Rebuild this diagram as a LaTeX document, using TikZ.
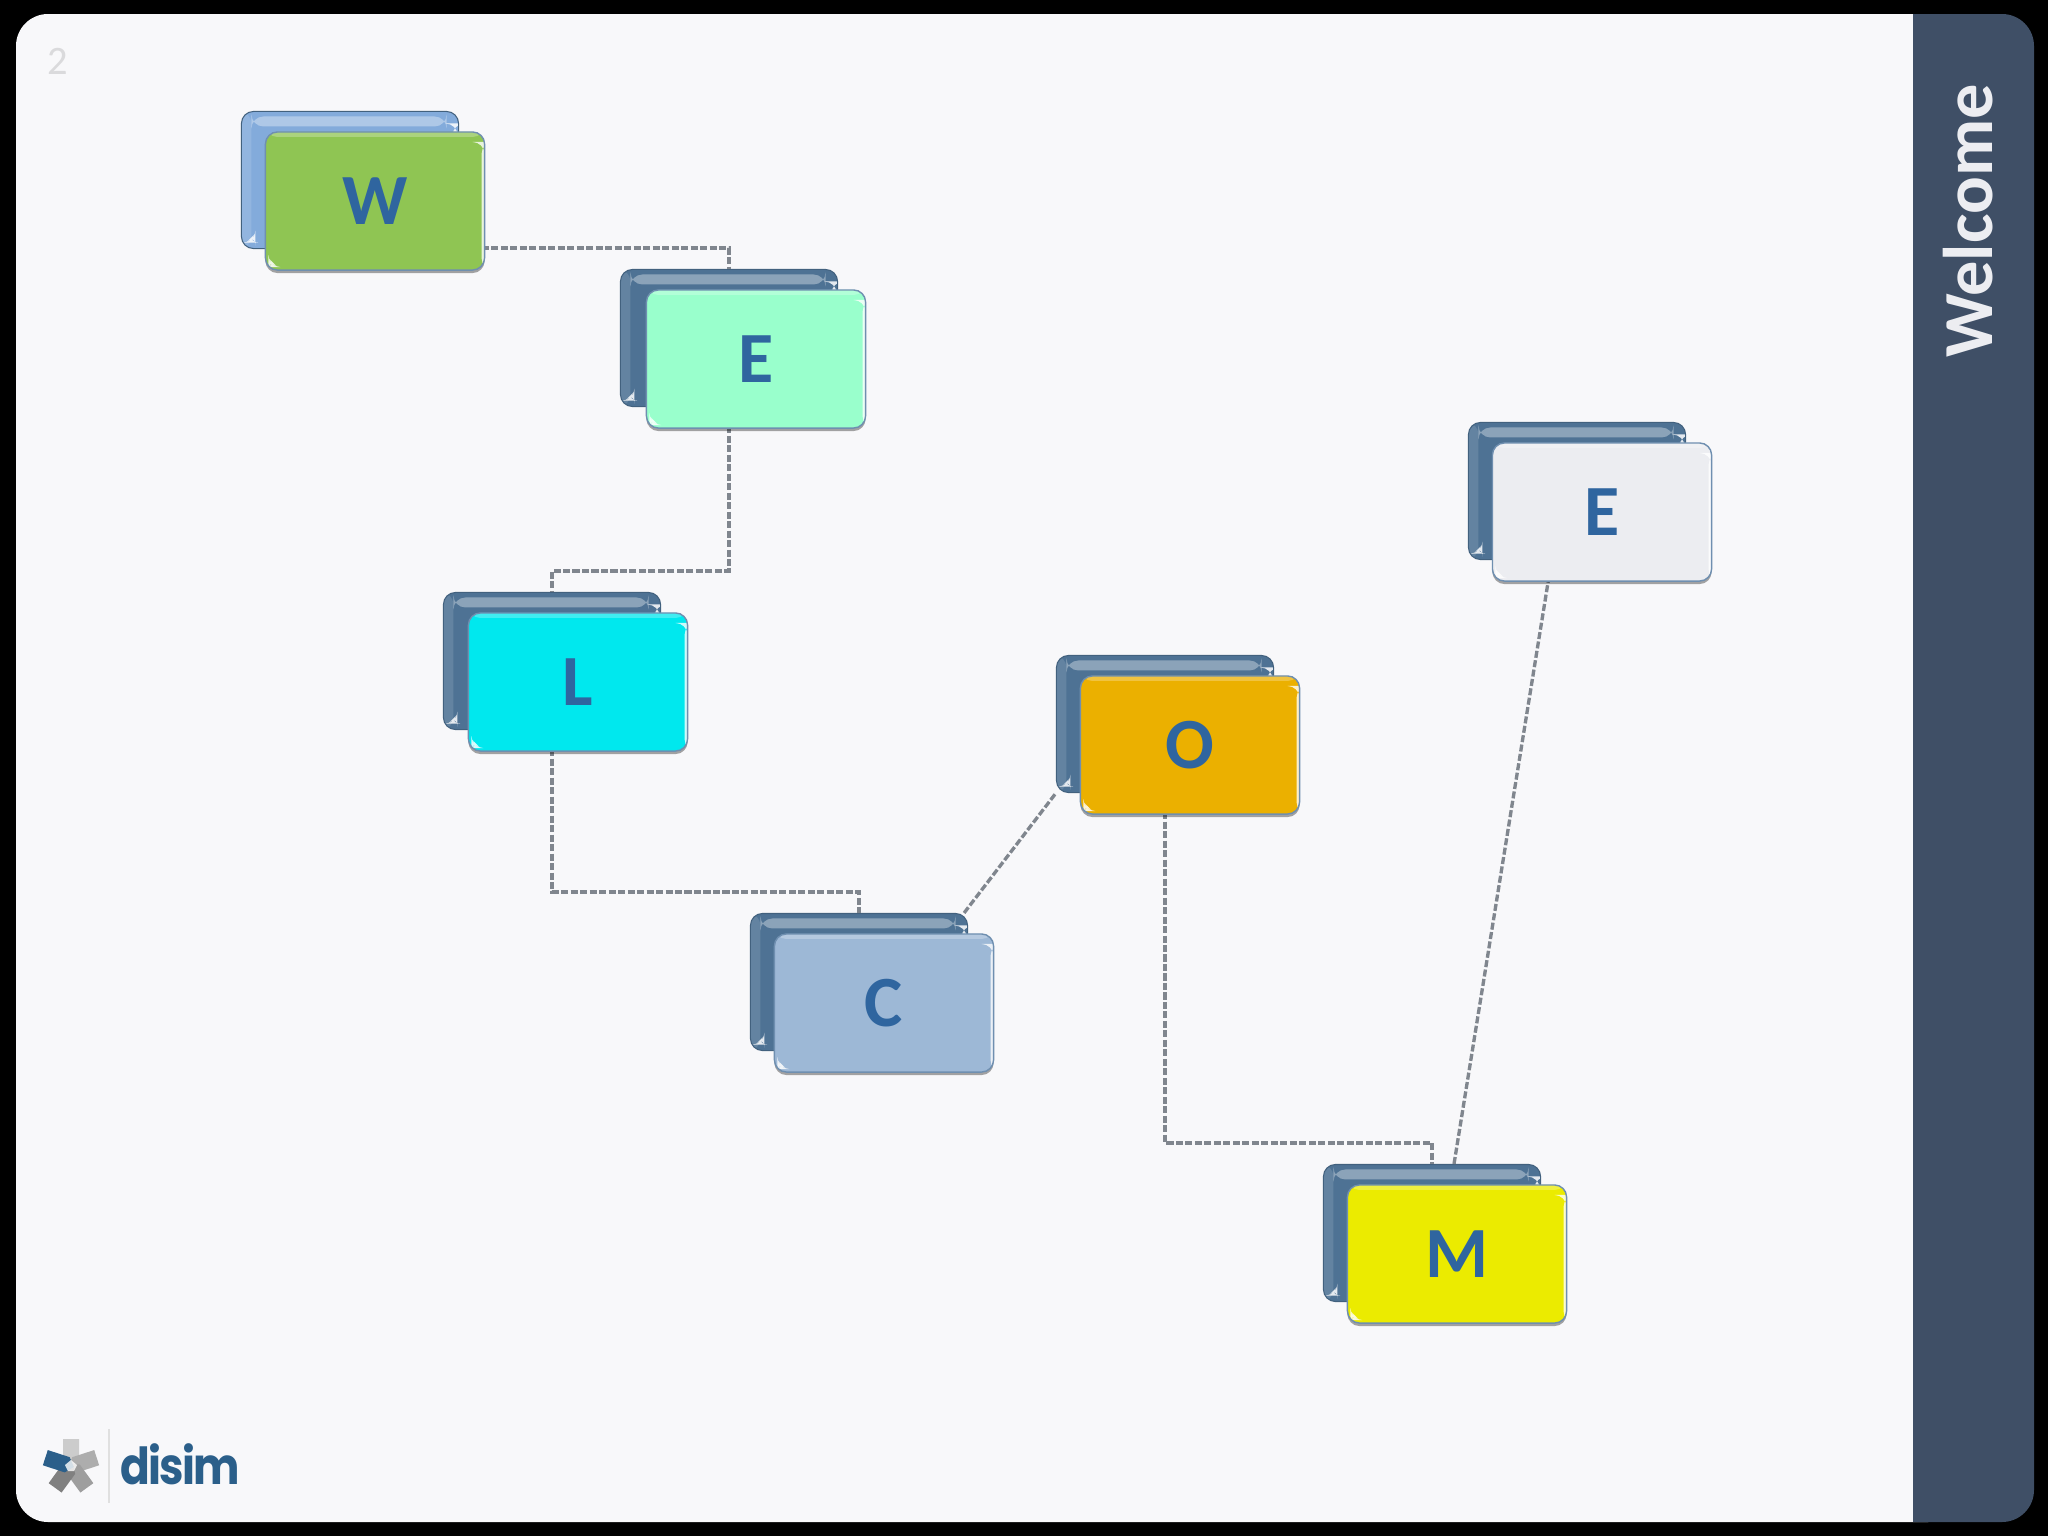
\documentclass[tikz,border=0pt]{standalone}
\usepackage{fontspec}
\setmainfont{Carlito}
\newfontfamily\logofont{Poppins}[LetterSpace=-4]
\usetikzlibrary{shadows}
\definecolor{Ink}{HTML}{000000}
\definecolor{Paper}{HTML}{F8F8FA}
\definecolor{Slate}{HTML}{3F4F66}
\definecolor{Steel}{HTML}{4E7294}
\definecolor{Sky}{HTML}{83ABDB}
\definecolor{Rim}{HTML}{6F8FB0}
\definecolor{Letter}{HTML}{2F659F}
\definecolor{Dash}{HTML}{80868E}
\definecolor{Brand}{HTML}{2B5F8A}
\definecolor{Grass}{HTML}{8FC553}
\definecolor{Mint}{HTML}{99FFCC}
\definecolor{Aqua}{HTML}{00E8EE}
\definecolor{Haze}{HTML}{9DB8D6}
\definecolor{Amber}{HTML}{EBB000}
\definecolor{Lemon}{HTML}{EBEB00}
\definecolor{Mist}{HTML}{ECEDF1}
\def\ppb{path picture bounding box}
\begin{document}
\begin{tikzpicture}[
    x=.01cm,y=-.01cm,
    backbox/.style={draw=Steel!85!black,line width=.3pt,rounded corners=.12cm,fill=Steel,
                    minimum width=2.17cm,minimum height=1.37cm,inner sep=0pt,
                    path picture={
                      \fill[white,opacity=.35] ([shift={(10,5)}]\ppb.north west) rectangle ([shift={(-12,15)}]\ppb.north east);
                      \fill[white,opacity=.12] (\ppb.north west) rectangle ([shift={(10,0)}]\ppb.south west);
                      \fill[white,opacity=.85] ([shift={(-6,12)}]\ppb.north east) rectangle ([shift={(-1,32)}]\ppb.north east);
                      \fill[white,opacity=.85] ([shift={(5,-6)}]\ppb.south west) -- ([shift={(14,-6)}]\ppb.south west) -- ([shift={(14,-15)}]\ppb.south west) -- cycle;
                    }},
    frontbox/.style={draw=Rim,line width=.4pt,rounded corners=.12cm,
                     minimum width=2.19cm,minimum height=1.38cm,inner sep=0pt,
                     font=\bfseries\fontsize{20.5}{24}\selectfont,text=Letter,
                     drop shadow={shadow xshift=0cm,shadow yshift=-.03cm,opacity=.35,fill=black},
                     path picture={
                       \fill[white,opacity=.25] (\ppb.north west) rectangle ([shift={(0,5)}]\ppb.north east);
                       \fill[white,opacity=.8] ([shift={(-3,10)}]\ppb.north east) rectangle (\ppb.south east);
                       \fill[white,opacity=.85] ([shift={(3,-3)}]\ppb.south west) -- ([shift={(12,-3)}]\ppb.south west) -- ([shift={(3,-12)}]\ppb.south west) -- cycle;
                     }},
    link/.style={Dash,line width=.95pt,dash pattern=on 2pt off .7pt}
  ]
    \useasboundingbox (0,0) rectangle (2048,1536);
    \fill[Ink] (0,0) rectangle (2048,1536);
    \fill[Paper,rounded corners=.32cm] (16,14) rectangle (1960,1522);
    \fill[Slate] (1913,14) [rounded corners=.32cm] -- (2034,14) -- (2034,1522) [sharp corners] -- (1913,1522) -- cycle;
    \node[text=Paper!88!black,font=\fontsize{11.5}{14}\selectfont] (pagenum) at (58,61) {2};
    \node[rotate=90,anchor=base,text=Mist,font=\bfseries\fontsize{20}{24}\selectfont] (sidetitle) at (1992,221) {Welcome};

    % back cards
    \node[backbox,fill=Sky] (wb) at (350,180) {};
    \node[backbox] (eb) at (729,338) {};
    \node[backbox] (lb) at (552,661) {};
    \node[backbox] (cb) at (859,982) {};
    \node[backbox] (ob) at (1165,724) {};
    \node[backbox] (mb) at (1432,1233) {};
    \node[backbox] (sb) at (1577,491) {};

    % connectors run behind the front cards
    \draw[link] (wb.south) |- ([yshift=.21cm]eb.north) -- (eb.north);
    \draw[link] (eb.south) |- ([yshift=.21cm]lb.north) -- (lb.north);
    \draw[link] (lb.south) |- ([yshift=.21cm]cb.north) -- (cb.north);
    \draw[link] ([xshift=-.04cm]cb.north east) -- (ob.south west);
    \draw[link] (ob.south) |- ([yshift=.21cm]mb.north) -- (mb.north);
    \draw[link] ([xshift=.22cm]mb.north) -- ([xshift=-.26cm,yshift=-.04cm]sb.south);

    % front cards
    \node[frontbox,fill=Grass] (wf) at ([shift={(25,21)}]wb) {W};
    \node[frontbox,fill=Mint] (ef) at ([shift={(27,21)}]eb) {E};
    \node[frontbox,fill=Aqua] (lf) at ([shift={(26,21)}]lb) {L};
    \node[frontbox,fill=Haze] (cf) at ([shift={(25,21)}]cb) {C};
    \node[frontbox,fill=Amber] (of) at ([shift={(25,21)}]ob) {O};
    \node[frontbox,fill=Lemon] (mf) at ([shift={(25,21)}]mb) {M};
    \node[frontbox,fill=Mist] (sf) at ([shift={(25,21)}]sb) {E};

    % logo
    \foreach \ang/\col in {90/black!20,18/black!32,-54/black!38,-126/black!50,162/Brand}
      \fill[\col,shift={(71,1466)},rotate=\ang,yscale=-1] (4,-8) -- (27,-8) -- (27,8) -- (4,8) -- (-3,0) -- cycle;
    \fill[white,opacity=.8,shift={(71,1466)}] (0,-6) -- (6,-1) -- (3,5) -- (-3,5) -- (-6,-1) -- cycle;
    \draw[black!12,line width=.6pt] (109,1429) -- (109,1503);
    \node[text=Brand,anchor=base west,inner sep=0pt,xscale=.86,font=\logofont\bfseries\fontsize{14.5}{16}\selectfont] (logotext) at (120,1484) {disim};
  \end{tikzpicture}
\end{document}
